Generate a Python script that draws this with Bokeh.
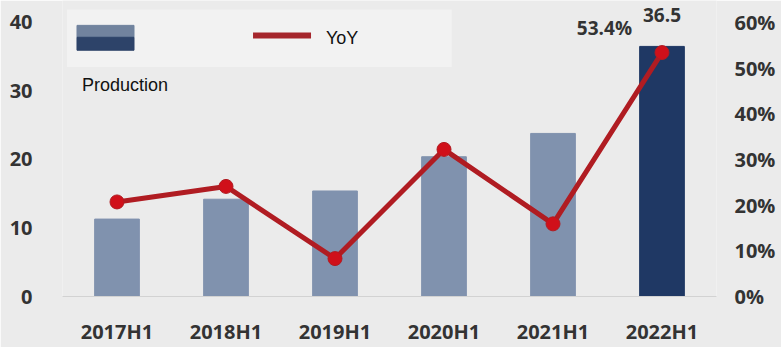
from bokeh.plotting import figure
from bokeh.models import Range1d, LinearAxis, FixedTicker, ColumnDataSource, BoxAnnotation
from bokeh.core.properties import value
from bokeh.embed import file_html
from bokeh.resources import INLINE

periods = ["2017H1", "2018H1", "2019H1", "2020H1", "2021H1", "2022H1"]
production = [11.3, 14.2, 15.4, 20.4, 23.8, 36.5]
yoy = [20.7, 24.1, 8.3, 32.2, 15.9, 53.4]
bar_colors = ["#8092ae", "#8092ae", "#8092ae", "#8092ae", "#8092ae", "#1f3864"]
left_ticks = [0, 10, 20, 30, 40]
right_ticks = [0, 10, 20, 30, 40, 50, 60]

idx = list(range(len(periods)))
YMAX = 43.2
ratio = 1.5

p = figure(width=781, height=347, output_backend="svg", toolbar_location=None,
           x_range=Range1d(-0.5, len(periods) - 0.5), y_range=Range1d(0, YMAX),
           min_border_left=62, min_border_right=65, min_border_top=0, min_border_bottom=49)
p.extra_y_ranges = {"pct": Range1d(0, YMAX * ratio)}
p.background_fill_color = "#ebebeb"
p.border_fill_color = "#ebebeb"
p.outline_line_color = None
p.grid.grid_line_color = None

font = "Open Sans"
fs = "20px"
# x axis
p.xaxis.ticker = FixedTicker(ticks=idx)
p.xaxis.major_label_overrides = {i: s for i, s in enumerate(periods)}
p.xaxis.axis_line_color = "#d2d2d2"
p.xaxis.major_tick_line_color = None
p.xaxis.minor_tick_line_color = None
p.xaxis.major_label_standoff = 15
p.xaxis.major_label_text_font = font
p.xaxis.major_label_text_font_style = "bold"
p.xaxis.major_label_text_font_size = fs
p.xaxis.major_label_text_color = "#333333"

# left axis
p.yaxis.ticker = FixedTicker(ticks=left_ticks)
p.yaxis.axis_line_color = None
p.yaxis.major_tick_line_color = None
p.yaxis.minor_tick_line_color = None
p.yaxis.major_label_standoff = 24
p.yaxis.major_label_text_font = font
p.yaxis.major_label_text_font_style = "bold"
p.yaxis.major_label_text_font_size = fs
p.yaxis.major_label_text_color = "#333333"

# right axis
ra = LinearAxis(y_range_name="pct", ticker=FixedTicker(ticks=right_ticks),
                major_label_overrides={t: f"{t}%" for t in right_ticks})
ra.axis_line_color = None
ra.major_tick_line_color = None
ra.minor_tick_line_color = None
ra.major_label_standoff = 12
ra.major_label_text_font = font
ra.major_label_text_font_style = "bold"
ra.major_label_text_font_size = fs
ra.major_label_text_color = "#333333"
p.add_layout(ra, "right")

src = ColumnDataSource(dict(x=idx, prod=production, yoy=yoy, color=bar_colors))

p.vbar(x="x", top="prod", width=0.41, color="color", source=src)
p.line(x="x", y="yoy", y_range_name="pct", line_color="#b01c22", line_width=5, source=src)
p.scatter(x="x", y="yoy", y_range_name="pct", size=14, fill_color="#d0101a",
          line_color="#b01c22", source=src)

last = ColumnDataSource(dict(x=[idx[-1]], prod=[production[-1]], yoy=[yoy[-1]],
                             plab=[f"{production[-1]}"], ylab=[f"{yoy[-1]}%"]))
p.text(x="x", y="prod", text="plab", source=last, text_align="center", text_baseline="bottom",
       y_offset=-24, text_font=value(font), text_font_style="bold", text_font_size="19px",
       text_color="#333333")
p.text(x="x", y="yoy", text="ylab", source=last, y_range_name="pct", text_align="right",
       text_baseline="middle", x_offset=-30, y_offset=-25, text_font=value(font),
       text_font_style="bold", text_font_size="19px", text_color="#333333")

# custom legend
p.add_layout(BoxAnnotation(left=-0.46, right=3.07, bottom=33.5, top=41.9,
                           fill_color="#f2f2f2", fill_alpha=1, line_color=None, level="underlay"))
p.quad(left=[-0.367], right=[0.156], bottom=[37.83], top=[39.57], color="#71839e")
p.quad(left=[-0.367], right=[0.156], bottom=[35.94], top=[37.83], color="#2d4369")
p.text(x=[-0.321], y=[30.9], text=["Production"], text_baseline="middle",
       text_font=value("Liberation Sans"), text_font_size="18px", text_color="#111111")
p.line(x=[1.248, 1.78], y=[38.1, 38.1], line_color="#a5262c", line_width=6)
p.text(x=[1.917], y=[37.8], text=["YoY"], text_baseline="middle",
       text_font=value("Liberation Sans"), text_font_size="18px", text_color="#111111")

open("out.html", "w").write(file_html(p, INLINE))
